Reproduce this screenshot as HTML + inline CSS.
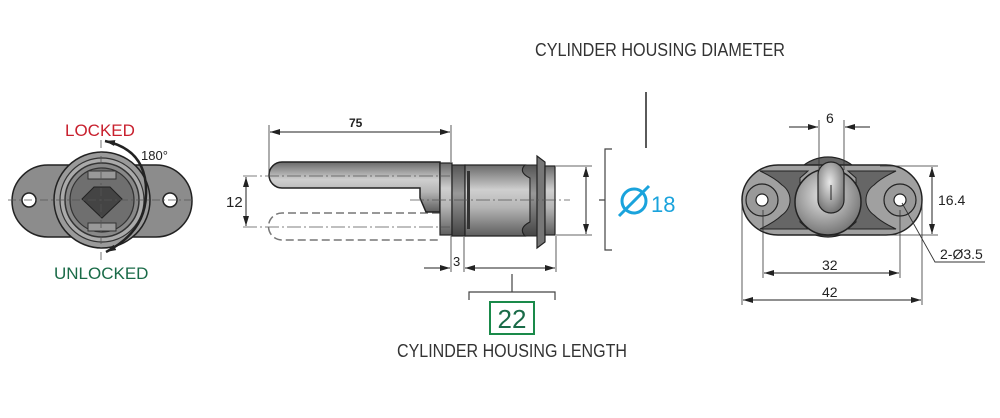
<!DOCTYPE html>
<html><head><style>
html,body{margin:0;padding:0;background:#fff;}
svg{display:block;}
text{font-family:"Liberation Sans",sans-serif;}
</style></head><body>
<svg width="1000" height="418" viewBox="0 0 1000 418" xmlns="http://www.w3.org/2000/svg">
<defs>
<linearGradient id="mv" x1="0" y1="0" x2="0" y2="1">
<stop offset="0" stop-color="#6a6a6a"/><stop offset="0.35" stop-color="#cfcfcf"/><stop offset="0.6" stop-color="#b5b5b5"/><stop offset="1" stop-color="#5e5e5e"/></linearGradient>
<linearGradient id="mv2" x1="0" y1="0" x2="0" y2="1">
<stop offset="0" stop-color="#555"/><stop offset="0.4" stop-color="#999"/><stop offset="1" stop-color="#444"/></linearGradient>
<radialGradient id="rg" cx="0.45" cy="0.4" r="0.6"><stop offset="0" stop-color="#e8e8e8"/><stop offset="1" stop-color="#777"/></radialGradient>
<marker id="a" viewBox="0 0 10 6" refX="10" refY="3" markerWidth="10" markerHeight="6" orient="auto-start-reverse" markerUnits="userSpaceOnUse"><path d="M0,0 L10,3 L0,6z" fill="#222"/></marker>
</defs>

<!-- LEFT VIEW -->
<path d="M48,165 L156,165 A36,36 0 0 1 156,237 L48,237 A36,36 0 0 1 48,165z" fill="#8c8c8c" stroke="#222" stroke-width="1.5"/>
<circle cx="29" cy="200" r="7" fill="#fff" stroke="#222" stroke-width="1.5"/>
<circle cx="170" cy="200" r="7" fill="#fff" stroke="#222" stroke-width="1.5"/>
<circle cx="102" cy="200" r="48" fill="#9a9a9a" stroke="#222" stroke-width="1.5"/>
<circle cx="102" cy="200" r="42" fill="#aaa" stroke="#333" stroke-width="1.2"/>
<circle cx="102" cy="200" r="37" fill="#888" stroke="#333" stroke-width="1.5"/>
<circle cx="102" cy="200" r="32" fill="#6f6f6f" stroke="#333" stroke-width="1.2"/>
<rect x="88" y="171" width="28" height="8" fill="#999" stroke="#333"/>
<rect x="88" y="223" width="28" height="8" fill="#999" stroke="#333"/>
<path d="M82,199 L94,187 L110,187 L122,199 L102,218z" fill="#444" stroke="#222"/>
<line x1="8" y1="200" x2="195" y2="200" stroke="#555" stroke-dasharray="8,3,2,3" stroke-width="0.8"/>
<line x1="101" y1="140" x2="101" y2="262" stroke="#555" stroke-dasharray="8,3,2,3" stroke-width="0.8"/>
<path d="M105,141 Q148,150 146,195 Q145,232 106,252" fill="none" stroke="#222" stroke-width="2.5" marker-start="url(#a)" marker-end="url(#a)"/>
<text x="65" y="136" font-size="17" fill="#c8202e">LOCKED</text>
<text x="141" y="160" font-size="13" fill="#222">180°</text>
<text x="54" y="279" font-size="17" fill="#1a6b48">UNLOCKED</text>

<!-- MIDDLE VIEW -->
<text x="535" y="56" font-size="18" fill="#333" textLength="250" lengthAdjust="spacingAndGlyphs">CYLINDER HOUSING DIAMETER</text>
<line x1="646" y1="92" x2="646" y2="148" stroke="#222" stroke-width="1.5"/>
<path d="M440,213 L282,213 A13,13 0 0 0 282,240 L440,240" fill="none" stroke="#777" stroke-dasharray="8,4" stroke-width="1.5"/>
<path d="M440,162 L282,162 A13,13 0 0 0 282,188 L420,188 L420,198 L426,212 L440,212z" fill="url(#mv)" stroke="#222" stroke-width="1.5"/>
<rect x="440" y="163" width="12" height="72" fill="url(#mv)" stroke="#222" stroke-width="1.2"/>
<rect x="452" y="165" width="13" height="71" fill="url(#mv2)" stroke="#222" stroke-width="1.2"/>
<path d="M465,165 L525,165 Q518,172 530,178 L530,222 Q518,228 525,236 L465,236z" fill="url(#mv)" stroke="#222" stroke-width="1.2"/>
<path d="M525,165 L537,165 L537,236 L525,236 Q518,228 530,222 L530,178 Q518,172 525,165z" fill="url(#mv2)" stroke="#222" stroke-width="1"/>
<path d="M537,156 L545,162 L545,242 L537,248z" fill="#777" stroke="#222" stroke-width="1.2"/>
<rect x="545" y="166" width="10" height="69" fill="url(#mv)" stroke="#222" stroke-width="1.2"/>
<rect x="467" y="171" width="3" height="58" fill="#333"/>
<line x1="243" y1="176" x2="450" y2="176" stroke="#555" stroke-dasharray="14,3,2,3" stroke-width="0.8"/>
<line x1="243" y1="227" x2="450" y2="227" stroke="#555" stroke-dasharray="14,3,2,3" stroke-width="0.8"/>
<line x1="410" y1="200" x2="570" y2="200" stroke="#555" stroke-dasharray="14,3,2,3" stroke-width="0.8"/>
<line x1="269" y1="125" x2="269" y2="175" stroke="#333" stroke-width="0.8"/>
<line x1="451" y1="125" x2="451" y2="162" stroke="#333" stroke-width="0.8"/>
<line x1="270" y1="132" x2="450" y2="132" stroke="#222" stroke-width="1" marker-start="url(#a)" marker-end="url(#a)"/>
<text x="349" y="127" font-size="12" font-weight="bold" fill="#222">75</text>
<line x1="246" y1="177" x2="246" y2="226" stroke="#222" stroke-width="1" marker-start="url(#a)" marker-end="url(#a)"/>
<text x="226" y="207" font-size="15" fill="#222">12</text>
<line x1="556" y1="166" x2="592" y2="166" stroke="#333" stroke-width="0.8"/>
<line x1="556" y1="235" x2="592" y2="235" stroke="#333" stroke-width="0.8"/>
<line x1="586" y1="167" x2="586" y2="234" stroke="#222" stroke-width="1" marker-start="url(#a)" marker-end="url(#a)"/>
<path d="M612,149 L605,149 L605,250 L612,250 M605,200 L599,200" fill="none" stroke="#444" stroke-width="1.2"/>
<circle cx="634" cy="201" r="12" fill="none" stroke="#1aa3dc" stroke-width="3"/>
<line x1="619" y1="216" x2="649" y2="186" stroke="#1aa3dc" stroke-width="3"/>
<text x="651" y="212" font-size="22" fill="#1aa3dc">18</text>
<line x1="451" y1="236" x2="451" y2="272" stroke="#333" stroke-width="0.8"/>
<line x1="464" y1="237" x2="464" y2="272" stroke="#333" stroke-width="0.8"/>
<line x1="556" y1="236" x2="556" y2="272" stroke="#333" stroke-width="0.8"/>
<line x1="424" y1="268" x2="450" y2="268" stroke="#222" marker-end="url(#a)"/>
<line x1="465" y1="268" x2="555" y2="268" stroke="#222" marker-start="url(#a)" marker-end="url(#a)"/>
<text x="453" y="266" font-size="13" fill="#222">3</text>
<path d="M512,274 L512,292 M469,300 L469,292 L555,292 L555,300" fill="none" stroke="#444" stroke-width="1.2"/>
<rect x="490" y="302" width="44" height="32" fill="none" stroke="#1a8a4a" stroke-width="2"/>
<text x="512" y="328" font-size="26" fill="#1a6b48" text-anchor="middle">22</text>
<text x="397" y="357" font-size="18" fill="#333" textLength="230" lengthAdjust="spacingAndGlyphs">CYLINDER HOUSING LENGTH</text>

<!-- RIGHT VIEW -->
<circle cx="828" cy="197" r="40" fill="#666" stroke="#222" stroke-width="1.2"/>
<path d="M778,165 L886,165 A36,35 0 0 1 886,235 L778,235 A36,35 0 0 1 778,165z" fill="#a0a0a0" stroke="#222" stroke-width="1.5"/>
<path d="M760,171 L808,171 L800,178 L800,222 L808,229 L760,229 Q775,222 782,215 A18,18 0 0 0 782,185 Q775,178 760,171z" fill="#666" stroke="#222"/>
<path d="M896,171 L848,171 L856,178 L856,222 L848,229 L896,229 Q881,222 874,215 A18,18 0 0 1 874,185 Q881,178 896,171z" fill="#666" stroke="#222"/>
<circle cx="762" cy="200" r="16" fill="#999" stroke="#222" stroke-width="1.2"/>
<circle cx="762" cy="200" r="6" fill="#fff" stroke="#222" stroke-width="1.2"/>
<circle cx="900" cy="200" r="16" fill="#999" stroke="#222" stroke-width="1.2"/>
<circle cx="900" cy="200" r="6" fill="#fff" stroke="#222" stroke-width="1.2"/>
<circle cx="828" cy="202" r="33" fill="url(#rg)" stroke="#222" stroke-width="1.5"/>
<path d="M818,175 A13,13 0 0 1 844,175 L844,200 A13,13 0 0 1 818,200z" fill="url(#rg)" stroke="#222" stroke-width="1.2"/>
<line x1="831" y1="185" x2="831" y2="200" stroke="#222"/>
<line x1="819" y1="120" x2="819" y2="170" stroke="#333" stroke-width="0.8"/>
<line x1="844" y1="120" x2="844" y2="170" stroke="#333" stroke-width="0.8"/>
<line x1="789" y1="127" x2="818" y2="127" stroke="#222" marker-end="url(#a)"/>
<line x1="870" y1="127" x2="845" y2="127" stroke="#222" marker-end="url(#a)"/>
<text x="826" y="123" font-size="14" fill="#222">6</text>
<line x1="880" y1="166" x2="938" y2="166" stroke="#333" stroke-width="0.8"/>
<line x1="880" y1="235" x2="938" y2="235" stroke="#333" stroke-width="0.8"/>
<line x1="932" y1="167" x2="932" y2="234" stroke="#222" marker-start="url(#a)" marker-end="url(#a)"/>
<text x="938" y="205" font-size="14" fill="#222">16.4</text>
<line x1="763" y1="210" x2="763" y2="278" stroke="#333" stroke-width="0.8"/>
<line x1="900" y1="210" x2="900" y2="278" stroke="#333" stroke-width="0.8"/>
<line x1="764" y1="273" x2="899" y2="273" stroke="#222" marker-start="url(#a)" marker-end="url(#a)"/>
<text x="822" y="270" font-size="14" fill="#222">32</text>
<line x1="742" y1="200" x2="742" y2="305" stroke="#333" stroke-width="0.8"/>
<line x1="922" y1="200" x2="922" y2="305" stroke="#333" stroke-width="0.8"/>
<line x1="743" y1="300" x2="921" y2="300" stroke="#222" marker-start="url(#a)" marker-end="url(#a)"/>
<text x="822" y="297" font-size="14" fill="#222">42</text>
<path d="M902,203 L935,262 L985,262" fill="none" stroke="#333" stroke-width="0.9"/>
<text x="940" y="259" font-size="14" fill="#222">2-Ø3.5</text>
</svg>
</body></html>
